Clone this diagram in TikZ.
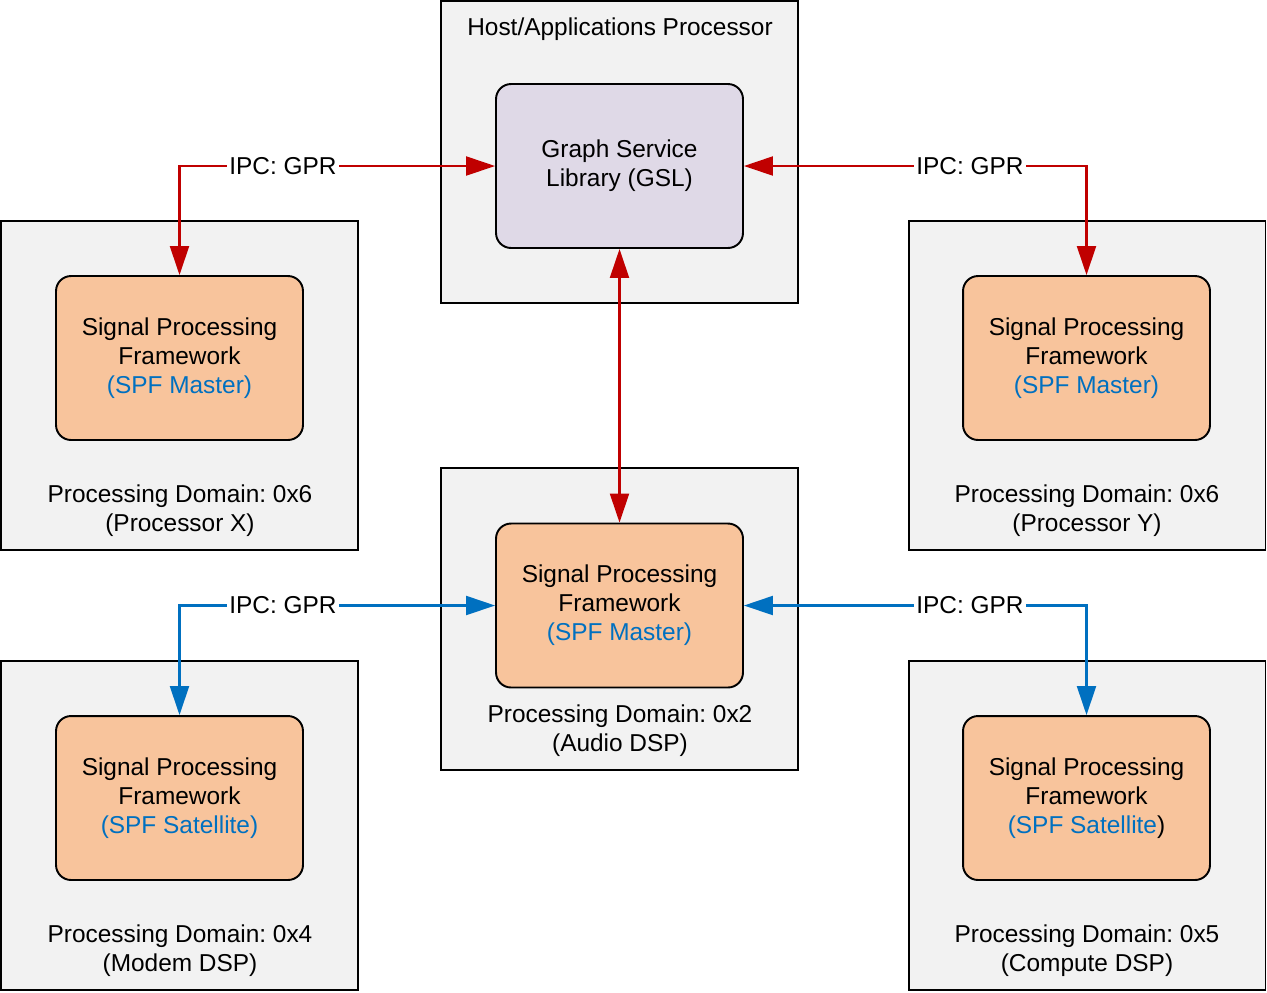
\documentclass[tikz,border=0pt]{standalone}
\usepackage{fontspec}
\setmainfont{Liberation Sans}
\usepackage{tikz}
\usetikzlibrary{arrows.meta}
\definecolor{gprred}{HTML}{C00000}
\definecolor{gprblue}{HTML}{0070C0}
\definecolor{boxgray}{HTML}{F2F2F2}
\definecolor{gslfill}{HTML}{DFD9E7}
\definecolor{spffill}{HTML}{F8C49C}
\frenchspacing

\begin{document}
\begin{tikzpicture}[x=0.02cm, y=-0.02cm,
    every node/.style={font=\fontsize{13.9}{16.5}\selectfont, align=center},
    domainbox/.style={draw, fill=boxgray, line width=1.1pt, minimum width=7.14cm, inner sep=0pt},
    spfbox/.style={draw, fill=spffill, rounded corners=0.3cm, line width=1.1pt, minimum width=4.94cm, minimum height=3.28cm, inner sep=0pt},
    ipc/.style={fill=white, inner sep=1.5pt},
    link/.style={{Triangle[length=0.58cm,width=0.38cm]}-{Triangle[length=0.58cm,width=0.38cm]}}
]
                \useasboundingbox (0,0) rectangle (1267,992);

                % Processing domains (outer boxes)
                \node[domainbox, minimum height=6.04cm] (host) at (619.5,152) {};
                \node[domainbox, minimum height=6.58cm] (procx) at (179.5,385.5) {};
                \node[domainbox, minimum height=6.58cm] (procy) at (1087,385.5) {};
                \node[domainbox, minimum height=6.04cm] (audio) at (619.5,619) {};
                \node[domainbox, minimum height=6.58cm] (modem) at (179.5,825.5) {};
                \node[domainbox, minimum height=6.58cm] (compute) at (1087,825.5) {};

                % Domain labels
                \node (hostlbl) at (620,29) {Host/Applications Processor};
                \node (procxlbl) at (180,510.5) {Processing Domain: 0x6\\(Processor X)};
                \node (procylbl) at (1087,510.5) {Processing Domain: 0x6\\(Processor Y)};
                \node (audiolbl) at (620,730.5) {Processing Domain: 0x2\\(Audio DSP)};
                \node (modemlbl) at (180,950.5) {Processing Domain: 0x4\\(Modem DSP)};
                \node (computelbl) at (1087,950.5) {Processing Domain: 0x5\\(Compute DSP)};

                % Graph Service Library and frameworks
                \node[spfbox, fill=gslfill] (gsl) at (619.5,166) {Graph Service\\Library (GSL)};
                \node[spfbox] (spfx) at (179.5,358) {Signal Processing\\Framework\\\textcolor{gprblue}{(SPF Master)}};
                \node[spfbox] (spfy) at (1086.5,358) {Signal Processing\\Framework\\\textcolor{gprblue}{(SPF Master)}};
                \node[spfbox] (spfa) at (619.5,605.5) {Signal Processing\\Framework\\\textcolor{gprblue}{(SPF Master)}};
                \node[spfbox] (spfm) at (179.5,798) {Signal Processing\\Framework\\\textcolor{gprblue}{(SPF Satellite)}};
                \node[spfbox] (spfc) at (1086.5,798) {Signal Processing\\Framework\\\textcolor{gprblue}{(SPF Satellite})};

                % IPC links from the host (red)
                \draw[gprred, line width=1.2pt, link] (gsl.west) -| (spfx.north);
                \draw[gprred, line width=1.2pt, link] (gsl.east) -| (spfy.north);
                \draw[gprred, line width=1.2pt, link] (gsl.south) -- (spfa.north);

                % IPC links from the audio DSP (blue)
                \draw[gprblue, line width=1.2pt, link] (spfa.west) -| (spfm.north);
                \draw[gprblue, line width=1.2pt, link] (spfa.east) -| (spfc.north);

                % Link labels
                \node[ipc] (ipcx) at (283,166) {IPC: GPR};
                \node[ipc] (ipcy) at (970,166) {IPC: GPR};
                \node[ipc] (ipcm) at (283,605) {IPC: GPR};
                \node[ipc] (ipcc) at (970,605) {IPC: GPR};

            \end{tikzpicture}
\end{document}
